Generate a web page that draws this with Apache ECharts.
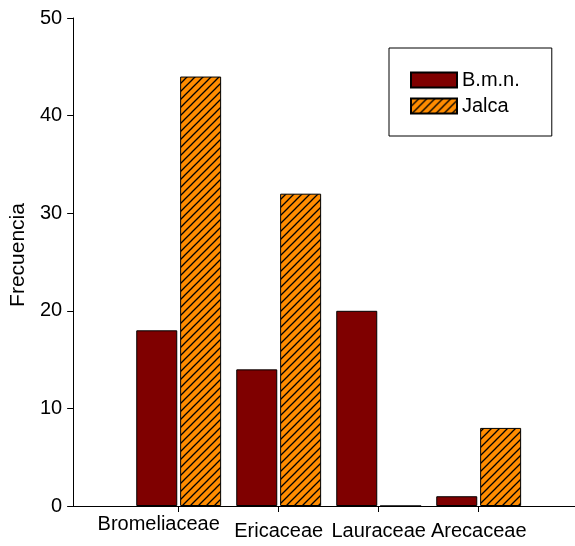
<!DOCTYPE html>
<html>
<head>
<meta charset="utf-8">
<script src="https://cdn.jsdelivr.net/npm/echarts@6/dist/echarts.min.js"></script>
<style>
html,body{margin:0;padding:0;background:#fff;}
#chart{width:575px;height:546px;}
</style>
</head>
<body>
<div id="chart"></div>
<script>
const categories = ['Bromeliaceae', 'Ericaceae', 'Lauraceae', 'Arecaceae'];
const bmnValues = [18, 14, 20, 1];
const jalcaValues = [44, 32, 0, 8];
const seriesNames = ['B.m.n.', 'Jalca'];
const yTickMin = 0, yTickMax = 50, yTickStep = 10;

const FONT = "'Liberation Sans', Arial, sans-serif";

// hatch pattern
const pc = document.createElement('canvas');
pc.width = 8; pc.height = 8;
const ctx = pc.getContext('2d');
ctx.fillStyle = '#ff8c00';
ctx.fillRect(0, 0, 8, 8);
ctx.strokeStyle = '#000';
ctx.lineWidth = 1.3;
ctx.beginPath();
ctx.moveTo(-1, 9); ctx.lineTo(9, -1);
ctx.moveTo(-1, 1); ctx.lineTo(1, -1);
ctx.moveTo(7, 9); ctx.lineTo(9, 7);
ctx.stroke();

const chart = echarts.init(document.getElementById('chart'), null, {renderer: 'canvas'});
chart.setOption({
  animation: false,
  backgroundColor: '#fff',
  textStyle: {fontFamily: FONT},
  grid: [
    {left: 72, right: 0, top: 18, bottom: 40},
    {left: 128.7, width: 400, top: 18, bottom: 40}
  ],
  legend: {
    orient: 'vertical',
    left: 389, top: 48,
    padding: [22, 32, 20, 21],
    borderColor: '#000', borderWidth: 1,
    itemWidth: 46, itemHeight: 15, itemGap: 6,
    icon: 'rect',
    textStyle: {fontSize: 20, color: '#000', fontFamily: FONT},
    data: seriesNames
  },
  xAxis: [
    {gridIndex: 0, type: 'value', min: 0, max: 1,
     axisLine: {show: true, lineStyle: {color: '#000', width: 1}},
     axisTick: {show: false}, axisLabel: {show: false}, splitLine: {show: false}},
    {gridIndex: 1, type: 'category', data: categories,
     axisLine: {show: false},
     axisTick: {show: true, alignWithLabel: true, length: 6, lineStyle: {color: '#000'}},
     axisLabel: {
       margin: 8, color: '#000', fontSize: 20, fontFamily: FONT, interval: 0,
       formatter: function (v, i) { return i === 0 ? '{a|' + v + '}' : '{b|' + v + '}'; },
       rich: {
         a: {fontSize: 20, fontFamily: FONT, color: '#000', padding: [0, 40, 0, 0]},
         b: {fontSize: 20, fontFamily: FONT, color: '#000', padding: [7, 0, 0, 0]}
       }
     }}
  ],
  yAxis: [
    {gridIndex: 0, type: 'value', min: yTickMin, max: yTickMax, interval: yTickStep,
     name: 'Frecuencia', nameLocation: 'middle', nameGap: 43,
     nameTextStyle: {fontSize: 21, color: '#000', fontFamily: FONT, padding: [0, 0, 0, 14]},
     axisLine: {show: true, lineStyle: {color: '#000', width: 1}},
     axisTick: {show: true, length: 6, lineStyle: {color: '#000'}},
     axisLabel: {margin: 11, color: '#000', fontSize: 20, fontFamily: FONT},
     splitLine: {show: false}},
    {gridIndex: 1, type: 'value', min: yTickMin, max: yTickMax, show: false}
  ],
  series: [
    {name: seriesNames[0], type: 'bar', xAxisIndex: 1, yAxisIndex: 1,
     data: bmnValues, barWidth: 41, barGap: '7%',
     itemStyle: {color: '#7f0000', borderColor: '#000', borderWidth: 1}},
    {name: seriesNames[1], type: 'bar', xAxisIndex: 1, yAxisIndex: 1,
     data: jalcaValues, barWidth: 41, barGap: '7%',
     itemStyle: {color: {image: pc, repeat: 'repeat'}, borderColor: '#000', borderWidth: 1}}
  ]
});
</script>
</body>
</html>
